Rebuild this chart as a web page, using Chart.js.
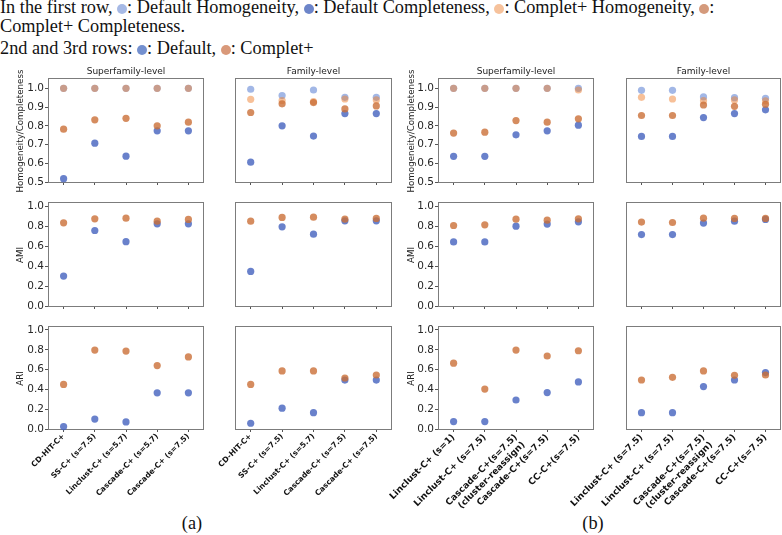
<!DOCTYPE html>
<html><head><meta charset="utf-8">
<script src="https://cdn.jsdelivr.net/npm/chart.js@4.4.0/dist/chart.umd.min.js"></script>
<style>
body{margin:0;width:782px;height:535px;position:relative;overflow:hidden;background:#fff;font-family:"Liberation Serif","Times New Roman",serif;color:#111;}
.cap{position:absolute;left:0;font-size:18.3px;line-height:20px;white-space:nowrap;}
.dot{display:inline-block;width:10px;height:10px;border-radius:50%;vertical-align:-1.3px;}
.sub{position:absolute;font-size:18.3px;line-height:20px;width:40px;text-align:center;}
canvas{position:absolute;}
</style></head><body>
<div class="cap" style="top:-3px">In the first row, <span class="dot" style="background:#a6b9e5"></span>: Default Homogeneity, <span class="dot" style="background:#6d85c9"></span>: Default Completeness, <span class="dot" style="background:#f6c29c"></span>: Complet+ Homogeneity, <span class="dot" style="background:#d49a7c"></span>:</div>
<div class="cap" style="top:16px">Complet+ Completeness.</div>
<div class="cap" style="top:37.5px">2nd and 3rd rows: <span class="dot" style="background:#7490cf"></span>: Default, <span class="dot" style="background:#d9997a"></span>: Complet+</div>
<div class="sub" style="left:172px;top:513px">(a)</div>
<div class="sub" style="left:573px;top:513px">(b)</div>
<script>
// ---------- categories ----------
const catsASuper = ["CD-HIT-C+", "SS-C+ (s=7.5)", "Linclust-C+ (s=5.7)", "Cascade-C+ (s=5.7)", "Cascade-C+ (s=7.5)"];
const catsAFamily = ["CD-HIT-C+", "SS-C+ (s=7.5)", "Linclust-C+ (s=5.7)", "Cascade-C+ (s=7.5)", "Cascade-C+ (s=7.5)"];
const catsBSuper = ["Linclust-C+ (s=1)", "Linclust-C+ (s=7.5)", ["Cascade-C+(s=7.5)", "(cluster-reassign)"], "Cascade-C+(s=7.5)", "CC-C+(s=7.5)"];
const catsBFamily = ["Linclust-C+ (s=7.5)", "Linclust-C+ (s=7.5)", ["Cascade-C+(s=7.5)", "(cluster-reassign)"], "Cascade-C+(s=7.5)", "CC-C+(s=7.5)"];

// ---------- panel titles / axis titles / ticks ----------
const panelTitles = ["Superfamily-level", "Family-level", "Superfamily-level", "Family-level"];
const rowTitles = ["Homogeneity/Completeness", "AMI", "ARI"];
const ticksRow1 = [0.5, 0.6, 0.7, 0.8, 0.9, 1.0];
const ticksRow23 = [0.0, 0.2, 0.4, 0.6, 0.8, 1.0];

// ---------- (a) Superfamily ----------
const aSupDefHom  = [1.000, 1.000, 1.000, 1.000, 1.000];
const aSupDefComp = [0.518, 0.707, 0.638, 0.773, 0.773];
const aSupCpHom   = [1.000, 1.000, 1.000, 1.000, 1.000];
const aSupCpComp  = [0.782, 0.832, 0.840, 0.800, 0.819];
const aSupAmiDef  = [0.300, 0.758, 0.646, 0.825, 0.825];
const aSupAmiCp   = [0.835, 0.875, 0.882, 0.852, 0.869];
const aSupAriDef  = [0.024, 0.100, 0.071, 0.365, 0.365];
const aSupAriCp   = [0.450, 0.797, 0.787, 0.640, 0.728];

// ---------- (a) Family ----------
const aFamDefHom  = [0.995, 0.961, 0.991, 0.952, 0.952];
const aFamDefComp = [0.606, 0.800, 0.745, 0.865, 0.865];
const aFamCpHom   = [0.941, 0.935, 0.929, 0.943, 0.938];
const aFamCpComp  = [0.871, 0.917, 0.924, 0.890, 0.906];
const aFamAmiDef  = [0.347, 0.795, 0.721, 0.855, 0.855];
const aFamAmiCp   = [0.852, 0.889, 0.892, 0.872, 0.879];
const aFamAriDef  = [0.058, 0.210, 0.165, 0.494, 0.494];
const aFamAriCp   = [0.450, 0.586, 0.586, 0.515, 0.545];

// ---------- (b) Superfamily ----------
const bSupDefHom  = [1.000, 1.000, 1.000, 1.000, 1.000];
const bSupDefComp = [0.637, 0.637, 0.752, 0.773, 0.803];
const bSupCpHom   = [1.000, 1.000, 1.000, 1.000, 0.991];
const bSupCpComp  = [0.761, 0.766, 0.828, 0.819, 0.837];
const bSupAmiDef  = [0.643, 0.643, 0.801, 0.822, 0.845];
const bSupAmiCp   = [0.808, 0.815, 0.872, 0.862, 0.875];
const bSupAriDef  = [0.075, 0.075, 0.293, 0.368, 0.475];
const bSupAriCp   = [0.665, 0.403, 0.797, 0.737, 0.790];

// ---------- (b) Family ----------
const bFamDefHom  = [0.989, 0.989, 0.954, 0.950, 0.947];
const bFamDefComp = [0.743, 0.743, 0.844, 0.865, 0.885];
const bFamCpHom   = [0.952, 0.943, 0.934, 0.938, 0.933];
const bFamCpComp  = [0.855, 0.855, 0.911, 0.904, 0.915];
const bFamAmiDef  = [0.717, 0.717, 0.832, 0.852, 0.869];
const bFamAmiCp   = [0.842, 0.838, 0.882, 0.879, 0.879];
const bFamAriDef  = [0.165, 0.165, 0.428, 0.495, 0.570];
const bFamAriCp   = [0.495, 0.522, 0.586, 0.542, 0.545];

// ---------- styling / layout ----------
const C_DEF_HOM = 'rgba(70,112,205,0.5)';
const C_DEF_COMP = 'rgba(68,98,190,0.8)';
const C_CP_HOM = 'rgba(240,130,50,0.5)';
const C_CP_COMP = 'rgba(202,111,55,0.8)';

const colBox = [[48, 204], [235, 392], [438, 594], [626, 781]];
const rowBox = [[78, 182], [202, 306], [326, 429]];
const rowRange = [[0.5, 1.055], [0, 1.044], [0, 1.04]];
const yTitleX = [20.5, null, 412, null];
const PAD_L = 60, PAD_T = 20, PAD_R = 4;

const boxPlugin = {
  id: 'box',
  beforeDatasetsDraw(c) {
    const {ctx, chartArea: a} = c;
    ctx.save();
    ctx.strokeStyle = '#7c7c7c';
    ctx.lineWidth = 1;
    ctx.strokeRect(Math.round(a.left) + 0.5, Math.round(a.top) + 0.5,
                   Math.round(a.right - a.left) - 1, Math.round(a.bottom - a.top));
    ctx.restore();
  }
};

const yTitlePlugin = {
  id: 'ytitle',
  afterDraw(c, args, o) {
    if (!o.text) return;
    const {ctx, chartArea: a} = c;
    ctx.save();
    ctx.translate(o.x, (a.top + a.bottom) / 2 + 1);
    ctx.rotate(-Math.PI / 2);
    ctx.font = '8.7px "DejaVu Sans"';
    ctx.fillStyle = '#222';
    ctx.textAlign = 'center';
    ctx.textBaseline = 'middle';
    ctx.fillText(o.text, 0, 0);
    ctx.restore();
  }
};

const panels = [
  {col: 0, cats: catsASuper, rows: [
    [[aSupCpComp, C_CP_COMP], [aSupCpHom, C_CP_HOM], [aSupDefComp, C_DEF_COMP], [aSupDefHom, C_DEF_HOM]],
    [[aSupAmiCp, C_CP_COMP], [aSupAmiDef, C_DEF_COMP]],
    [[aSupAriCp, C_CP_COMP], [aSupAriDef, C_DEF_COMP]]]},
  {col: 1, cats: catsAFamily, rows: [
    [[aFamCpComp, C_CP_COMP], [aFamCpHom, C_CP_HOM], [aFamDefComp, C_DEF_COMP], [aFamDefHom, C_DEF_HOM]],
    [[aFamAmiCp, C_CP_COMP], [aFamAmiDef, C_DEF_COMP]],
    [[aFamAriCp, C_CP_COMP], [aFamAriDef, C_DEF_COMP]]]},
  {col: 2, cats: catsBSuper, rows: [
    [[bSupCpComp, C_CP_COMP], [bSupCpHom, C_CP_HOM], [bSupDefComp, C_DEF_COMP], [bSupDefHom, C_DEF_HOM]],
    [[bSupAmiCp, C_CP_COMP], [bSupAmiDef, C_DEF_COMP]],
    [[bSupAriCp, C_CP_COMP], [bSupAriDef, C_DEF_COMP]]]},
  {col: 3, cats: catsBFamily, rows: [
    [[bFamCpComp, C_CP_COMP], [bFamCpHom, C_CP_HOM], [bFamDefComp, C_DEF_COMP], [bFamDefHom, C_DEF_HOM]],
    [[bFamAmiCp, C_CP_COMP], [bFamAmiDef, C_DEF_COMP]],
    [[bFamAriCp, C_CP_COMP], [bFamAriDef, C_DEF_COMP]]]}
];

panels.forEach(p => {
  p.rows.forEach((dsList, r) => {
    const [L, R] = colBox[p.col];
    const [T, B] = rowBox[r];
    const padB = r === 2 ? 105 : 14;
    const showY = (p.col % 2 === 0);
    const w = (R - L) + PAD_L + PAD_R;
    const h = (B - T) + PAD_T + padB;
    const cv = document.createElement('canvas');
    cv.width = w; cv.height = h;
    const cvLeft = L - PAD_L;
    cv.style.left = cvLeft + 'px';
    cv.style.top = (T - PAD_T) + 'px';
    document.body.appendChild(cv);
    const tickVals = r === 0 ? ticksRow1 : ticksRow23;
    const xFont = p.col < 2 ? 7.6 : 9;
    new Chart(cv, {
      type: 'line',
      data: {
        labels: p.cats,
        datasets: dsList.map(([vals, color]) => ({
          data: vals, showLine: false, pointRadius: 3.6, pointHoverRadius: 3.6,
          pointBorderWidth: 0, backgroundColor: color, borderColor: color, clip: false
        }))
      },
      plugins: [boxPlugin, yTitlePlugin],
      options: {
        responsive: false, animation: false, devicePixelRatio: 1, events: [],
        layout: {padding: {top: r === 0 ? 0 : PAD_T, left: 0, right: PAD_R, bottom: 0}},
        plugins: {
          legend: {display: false}, tooltip: {enabled: false},
          ytitle: {text: showY ? rowTitles[r] : '', x: showY ? yTitleX[p.col] - cvLeft : 0},
          title: {display: r === 0, text: panelTitles[p.col], fullSize: false,
                  font: {family: 'DejaVu Sans', size: 9, weight: 'normal', lineHeight: 1.2}, color: '#222',
                  padding: {top: PAD_T - 10.8 - 1.2, bottom: 1.2}}
        },
        scales: {
          x: {
            type: 'category', offset: true,
            border: {display: false},
            grid: {drawOnChartArea: false, drawTicks: true, tickLength: 3, color: '#555'},
            ticks: {display: r === 2, autoSkip: false, minRotation: 45, maxRotation: 45, padding: 0,
                    color: '#111', font: {family: 'DejaVu Sans', weight: 'bold', size: xFont}},
            afterFit: s => { s.height = padB; s.paddingLeft = 0; s.paddingRight = 0; }
          },
          y: {
            min: rowRange[r][0], max: rowRange[r][1],
            afterBuildTicks: s => { s.ticks = tickVals.map(v => ({value: v})); },
            border: {display: false},
            grid: {drawOnChartArea: false, drawTicks: showY, tickLength: 3, color: '#555'},
            ticks: {display: showY, padding: 1, color: '#262626',
                    font: {family: 'DejaVu Sans', size: 10.5},
                    callback: v => Number(v).toFixed(1)},
            afterFit: s => { s.width = PAD_L; }
          }
        }
      }
    });
  });
});
</script>
</body></html>
